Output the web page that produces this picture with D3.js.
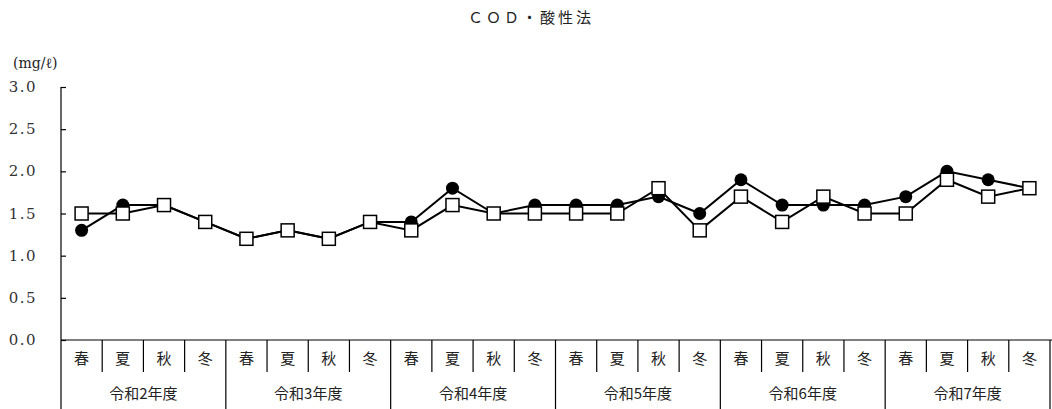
<!DOCTYPE html>
<html><head><meta charset="utf-8">
<script src="https://cdn.jsdelivr.net/npm/d3@7"></script>
<style>
body{margin:0;background:#fff;}
svg{display:block;}
</style></head>
<body>
<script>
const years = ["令和2年度","令和3年度","令和4年度","令和5年度","令和6年度","令和7年度"];
const seasons = ["春","夏","秋","冬"];
const seriesCircle = [1.3,1.6,1.6,1.4, 1.2,1.3,1.2,1.4, 1.4,1.8,1.5,1.6, 1.6,1.6,1.7,1.5, 1.9,1.6,1.6,1.6, 1.7,2.0,1.9,1.8];
const seriesSquare = [1.5,1.5,1.6,1.4, 1.2,1.3,1.2,1.4, 1.3,1.6,1.5,1.5, 1.5,1.5,1.8,1.3, 1.7,1.4,1.7,1.5, 1.5,1.9,1.7,1.8];
const yTicks = [0,0.5,1.0,1.5,2.0,2.5,3.0];
const title = "ＣＯＤ・酸性法";
const unit = "(mg/ℓ)";

(function(){
const SERIF = "'DejaVu Serif', 'Liberation Serif', serif";
const JP = "'Noto Sans CJK JP', 'Noto Sans CJK SC', sans-serif";
const W = 1052, H = 409;
const mLeft = 61, mRight = 1050, mTop = 87, mBottom = 340;
const svg = d3.select("body").append("svg").attr("width", W).attr("height", H);

const cats = d3.range(years.length * seasons.length);
const x = d3.scaleBand().domain(cats).range([mLeft, mRight]).padding(0);
const y = d3.scaleLinear().domain([0, 3]).range([mBottom, mTop]);

svg.append("text").attr("x", 531).attr("y", 23)
  .attr("text-anchor","middle").style("font-family", JP).style("font-size","15px")
  .style("letter-spacing","3px").attr("fill","#222").text(title);
svg.append("text").attr("x", 13).attr("y", 68)
  .style("font-family", SERIF).style("font-size","14px").attr("fill","#222").text(unit);

const yAxis = d3.axisLeft(y).tickValues(yTicks).tickSizeInner(-5).tickSizeOuter(0)
  .tickFormat(d3.format(".1f"));
const gy = svg.append("g").attr("transform", `translate(${mLeft},0)`).call(yAxis);
gy.select(".domain").remove();
gy.selectAll(".tick line").attr("stroke","#000").attr("stroke-width",1.2);
gy.selectAll(".tick text").attr("x", -24).attr("text-anchor","end")
  .style("font-family", SERIF).style("font-size","15px")
  .style("letter-spacing", "1.5px").attr("fill","#333").attr("dy","0.3em");
svg.append("line").attr("x1", mLeft).attr("x2", mLeft).attr("y1", mTop).attr("y2", H)
  .attr("stroke","#000").attr("stroke-width",1.2);

svg.append("line").attr("x1", mLeft).attr("x2", W).attr("y1", mBottom).attr("y2", mBottom)
  .attr("stroke","#000").attr("stroke-width",1.2);

const edges = cats.map(i => x(i)).concat([mRight]);
edges.forEach((ex, i) => {
  if (i === 0) return;
  const isYear = i % seasons.length === 0;
  svg.append("line").attr("x1", ex).attr("x2", ex).attr("y1", mBottom)
    .attr("y2", isYear ? H : 372).attr("stroke","#000").attr("stroke-width",1.2);
});

svg.selectAll(".season").data(cats).enter().append("text")
  .attr("x", d => x(d) + x.bandwidth()/2).attr("y", 364).attr("text-anchor","middle")
  .style("font-family", JP).style("font-size","15px").attr("fill","#222").text(d => seasons[d % seasons.length]);
svg.selectAll(".year").data(years).enter().append("text")
  .attr("x", (d,i) => (x(i*4) + (i*4+4 < cats.length ? x(i*4+4) : mRight))/2)
  .attr("y", 399).attr("text-anchor","middle")
  .style("font-family", JP).style("font-size","15px").attr("fill","#222").text(d => d);

const cx = i => x(i) + x.bandwidth()/2;
const line = d3.line().x((d,i) => cx(i)).y(d => y(d));

svg.append("path").datum(seriesCircle).attr("d", line).attr("fill","none")
  .attr("stroke","#000").attr("stroke-width",2);
svg.selectAll(".c").data(seriesCircle).enter().append("circle")
  .attr("cx", (d,i) => cx(i)).attr("cy", d => y(d)).attr("r", 6.5).attr("fill","#000");

svg.append("path").datum(seriesSquare).attr("d", line).attr("fill","none")
  .attr("stroke","#000").attr("stroke-width",2);
const s = 13;
svg.selectAll(".s").data(seriesSquare).enter().append("rect")
  .attr("x", (d,i) => cx(i) - s/2).attr("y", d => y(d) - s/2).attr("width", s).attr("height", s)
  .attr("fill","#fff").attr("stroke","#000").attr("stroke-width",1.5);
})();
</script>
</body></html>
